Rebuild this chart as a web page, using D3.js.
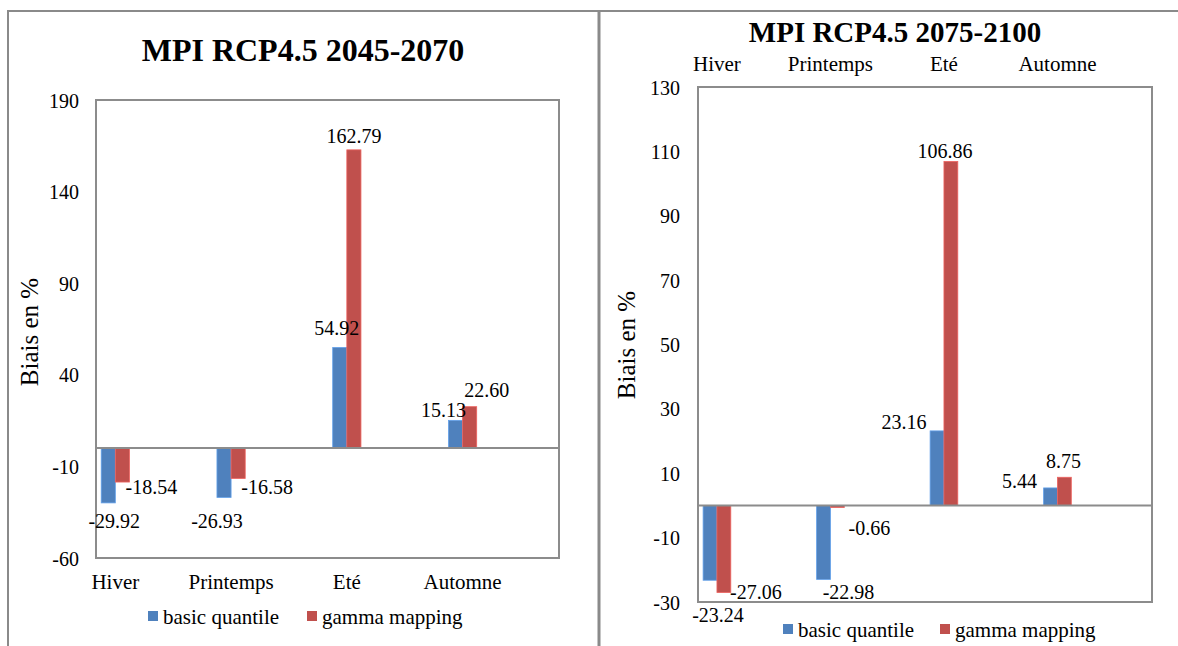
<!DOCTYPE html>
<html>
<head>
<meta charset="utf-8">
<script src="https://cdn.jsdelivr.net/npm/d3@7/dist/d3.min.js"></script>
<style>
  body { margin: 0; background: #fff; }
  svg, svg text { font-family: "Liberation Serif", "Times New Roman", serif; }
</style>
</head>
<body>
<script>
// Data
var seasons = ["Hiver", "Printemps", "Eté", "Automne"];
var seriesNames = ["basic quantile", "gamma mapping"];
var basic2045 = [-29.92, -26.93, 54.92, 15.13];
var gamma2045 = [-18.54, -16.58, 162.79, 22.60];
var basic2075 = [-23.24, -22.98, 23.16, 5.44];
var gamma2075 = [-27.06, -0.66, 106.86, 8.75];
var ticks2045 = [-60, -10, 40, 90, 140, 190];
var ticks2075 = [-30, -10, 10, 30, 50, 70, 90, 110, 130];

var colors = ["#4F81BD", "#C0504D"];
var lineColor = "#8c8c8c";

var width = 1178, height = 646;

// hyphen instead of unicode minus, like the original
var fmt2 = function(d) { return d3.format(".2f")(d).replace("\u2212", "-"); };
var fmt0 = function(d) { return d3.format("d")(d).replace("\u2212", "-"); };

var svg = d3.select("body").append("svg")
    .attr("width", width)
    .attr("height", height);

/*
 * Outer frames of the two panels.
 */
svg.append("path")
    .attr("d", "M8,648 V11 H1178")
    .attr("fill", "none")
    .attr("stroke", "#8a8a8a")
    .attr("stroke-width", 2);
svg.append("line")
    .attr("x1", 599).attr("x2", 599)
    .attr("y1", 11).attr("y2", 648)
    .attr("stroke", "#8a8a8a")
    .attr("stroke-width", 3);

/*
 * One panel = one grouped bar chart.
 */
function drawPanel(p) {
    var y = d3.scaleLinear()
        .domain([p.ticks[0], p.ticks[p.ticks.length - 1]])
        .range([p.bottom, p.top]);

    var x = d3.scaleBand()
        .domain(seasons)
        .range([p.left, p.right]);

    var bw = x.bandwidth() * 0.122;
    var off = x.bandwidth() * 0.045;
    var barX = function(i, si) { return x(seasons[i]) + off + si * bw; };

    var g = svg.append("g");

    // title
    g.append("text")
        .attr("x", p.titleX)
        .attr("y", p.titleY)
        .attr("text-anchor", "middle")
        .style("font-weight", "bold")
        .style("font-size", p.titleSize + "px")
        .text(p.title);

    // plot box
    g.append("rect")
        .attr("x", p.left)
        .attr("y", p.top)
        .attr("width", p.right - p.left)
        .attr("height", p.bottom - p.top)
        .attr("fill", "none")
        .attr("stroke", lineColor)
        .attr("stroke-width", 2);

    // y tick labels
    var yAxis = d3.axisLeft(y).tickValues(p.ticks).tickSize(0).tickPadding(0)
        .tickFormat(fmt0);
    var ya = g.append("g")
        .attr("transform", "translate(" + p.tickRight + ",0)")
        .call(yAxis)
        .attr("font-family", "Liberation Serif")
        .attr("font-size", 20);
    ya.select(".domain").remove();
    ya.selectAll("text")
        .attr("fill", "#000")
        .attr("dy", "0.35em");

    // y axis title
    g.append("text")
        .attr("transform", "translate(" + p.yTitleX + "," + p.yTitleY + ") rotate(-90)")
        .attr("text-anchor", "middle")
        .style("font-size", "25px")
        .text("Biais en %");

    // bars
    var series = [p.basic, p.gamma];
    series.forEach(function(vals, si) {
        g.selectAll(".bar" + si)
            .data(vals)
            .enter().append("rect")
            .attr("class", "bar" + si)
            .attr("x", function(d, i) { return barX(i, si); })
            .attr("y", function(d) { return y(Math.max(0, d)); })
            .attr("width", bw)
            .attr("height", function(d) { return Math.abs(y(d) - y(0)); })
            .attr("fill", colors[si])
            .attr("stroke", d3.color(colors[si]).brighter(0.6))
            .attr("stroke-width", 0.8);
    });

    // zero line
    g.append("line")
        .attr("x1", p.left).attr("x2", p.right)
        .attr("y1", y(0)).attr("y2", y(0))
        .attr("stroke", lineColor)
        .attr("stroke-width", 2);

    // data labels, on top of the bars
    series.forEach(function(vals, si) {
        g.selectAll(".lab" + si)
            .data(vals)
            .enter().append("text")
            .attr("class", "lab" + si)
            .attr("x", function(d, i) { return barX(i, si) + bw / 2 + p.labelOff[si][i][0]; })
            .attr("y", function(d, i) { return y(d) + p.labelOff[si][i][1]; })
            .attr("text-anchor", "middle")
            .style("font-size", "20px")
            .text(fmt2);
    });

    // category labels
    g.selectAll(".cat")
        .data(seasons)
        .enter().append("text")
        .attr("class", "cat")
        .attr("x", function(d) { return x(d) + off + bw; })
        .attr("y", p.catY)
        .attr("text-anchor", "middle")
        .style("font-size", "21px")
        .text(function(d) { return d; });

    // legend
    var lg = g.append("g").attr("transform", "translate(" + p.legendX + "," + p.legendY + ")");
    var item = lg.selectAll(".item")
        .data(seriesNames)
        .enter().append("g")
        .attr("class", "item")
        .attr("transform", function(d, i) { return "translate(" + (i * p.legendStep) + ",0)"; });
    item.append("rect")
        .attr("x", 0).attr("y", -13)
        .attr("width", 10).attr("height", 10)
        .attr("fill", function(d, i) { return colors[i]; });
    item.append("text")
        .attr("x", 15)
        .attr("y", 0)
        .style("font-size", "21px")
        .text(function(d) { return d; });
}

drawPanel({
    title: "MPI RCP4.5 2045-2070", titleX: 303, titleY: 61, titleSize: 32,
    left: 96, right: 559, top: 100, bottom: 558,
    ticks: ticks2045, tickRight: 79,
    yTitleX: 38, yTitleY: 332,
    basic: basic2045, gamma: gamma2045,
    catY: 589,
    legendX: 148, legendY: 624, legendStep: 159,
    labelOff: [
        [[6, 25], [-7, 31], [-3, -12], [-12, -3]],
        [[29, 12], [29, 16], [0, -7], [17, -10]]
    ]
});

drawPanel({
    title: "MPI RCP4.5 2075-2100", titleX: 895, titleY: 42, titleSize: 29,
    left: 698, right: 1152, top: 87, bottom: 602,
    ticks: ticks2075, tickRight: 680,
    yTitleX: 635, yTitleY: 345,
    basic: basic2075, gamma: gamma2075,
    catY: 71,
    legendX: 783, legendY: 637, legendStep: 157,
    labelOff: [
        [[8, 42], [25, 20], [-33, -2], [-31, 0]],
        [[32, 6], [32, 27], [-6, -3], [-1, -9]]
    ]
});
</script>
</body>
</html>
